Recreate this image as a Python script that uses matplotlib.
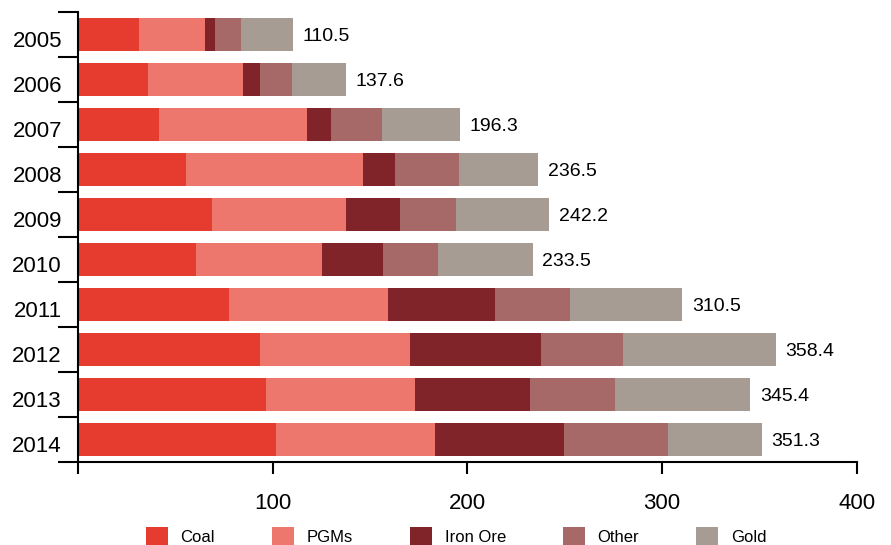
import matplotlib.pyplot as plt
import matplotlib.transforms as mtransforms
import numpy as np

plt.rcParams['font.family'] = ['Liberation Sans', 'DejaVu Sans']

# data
years = ['2005', '2006', '2007', '2008', '2009', '2010', '2011', '2012', '2013', '2014']
coal = [31.4, 36.0, 41.7, 55.5, 68.9, 60.7, 77.6, 93.5, 96.6, 101.7]
pgms = [33.7, 48.8, 75.8, 90.9, 68.8, 64.7, 81.7, 77.1, 76.5, 81.7]
iron_ore = [5.3, 8.7, 12.5, 16.5, 27.7, 31.3, 54.9, 67.2, 59.1, 66.3]
other = [13.2, 16.5, 26.2, 32.8, 28.8, 28.3, 38.5, 42.2, 43.6, 53.4]
gold = [26.9, 27.6, 40.1, 40.8, 48.0, 48.5, 57.8, 78.4, 69.6, 48.2]
totals = [110.5, 137.6, 196.3, 236.5, 242.2, 233.5, 310.5, 358.4, 345.4, 351.3]

names = ['Coal', 'PGMs', 'Iron Ore', 'Other', 'Gold']
colors = ['#E53C2F', '#EE776D', '#80242A', '#A76868', '#A69C93']
series = [coal, pgms, iron_ore, other, gold]

fig = plt.figure(figsize=(8.91, 5.45), dpi=100)
ax = fig.add_axes([0.0875, 0.1523, 0.874, 0.8257])

y = np.arange(len(years))
left = np.zeros(len(years))
for vals, name, col in zip(series, names, colors):
    ax.barh(y, vals, left=left, height=0.733, color=col, label=name)
    left += np.array(vals)

for yi, tot in zip(y, totals):
    ax.annotate(f'{tot:.1f}', xy=(tot, yi), xytext=(7, -1.5), textcoords='offset points',
                va='center', ha='left', fontsize=14)

ax.set_xlim(0, 400)
ax.set_ylim(9.5, -0.5)

ax.spines['top'].set_visible(False)
ax.spines['right'].set_visible(False)
ax.spines['left'].set_linewidth(1.5)
ax.spines['bottom'].set_linewidth(1.5)

# y: tick marks between bars, year labels at bar centres
ax.set_yticks(np.arange(-0.5, 10, 1))
ax.set_yticklabels([])
ax.set_yticks(y, minor=True)
ax.set_yticklabels(years, minor=True, fontsize=16)
ax.tick_params(axis='y', which='major', length=14.4, width=1.5, direction='out')
ax.tick_params(axis='y', which='minor', length=0, pad=11.5)
shift = mtransforms.ScaledTranslation(0, -3 / 72, fig.dpi_scale_trans)
for lab in ax.get_yticklabels(minor=True):
    lab.set_transform(lab.get_transform() + shift)

ax.set_xticks([0, 100, 200, 300, 400])
ax.set_xticklabels(['', '100', '200', '300', '400'])
ax.tick_params(axis='x', length=8.6, width=1.5, pad=14, labelsize=16)

fig.legend(loc='center', bbox_to_anchor=(456 / 891, 1 - 536 / 545), ncol=5, frameon=False,
           fontsize=12, handlelength=1.35, handleheight=1.35, handletextpad=0.75,
           columnspacing=3.4)

fig.savefig('out.png', dpi=100)
